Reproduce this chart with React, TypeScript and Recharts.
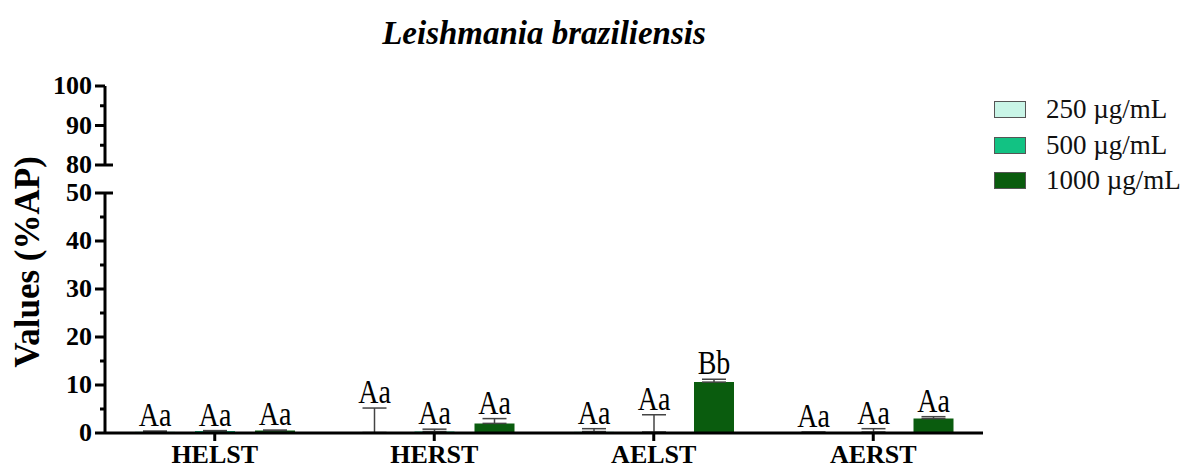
import React from 'react';
import {
  BarChart,
  Bar,
  XAxis,
  YAxis,
  ErrorBar,
  LabelList,
  Legend,
} from 'recharts';

// Leishmania braziliensis, % AP per extract and concentration
const groups = ['HELST', 'HERST', 'AELST', 'AERST'];
const mean250 = [0.3, 0.1, 0.3, 0.1];
const err250 = [0.1, 5.1, 0.6, 0.1];
const mean500 = [0.4, 0.3, 0.2, 0.2];
const err500 = [0.1, 0.5, 3.6, 0.7];
const mean1000 = [0.5, 2.0, 10.6, 3.0];
const err1000 = [0.1, 1.0, 0.6, 0.4];
const letters250 = ['Aa', 'Aa', 'Aa', 'Aa'];
const letters500 = ['Aa', 'Aa', 'Aa', 'Aa'];
const letters1000 = ['Aa', 'Aa', 'Bb', 'Aa'];
const lowTicks = [0, 5, 10, 15, 20, 25, 30, 35, 40, 45, 50];
const highTicks = [80, 85, 90, 95, 100];

const data = groups.map((g, i) => ({
  group: g,
  m250: mean250[i],
  e250: err250[i],
  l250: letters250[i],
  m500: mean500[i],
  e500: err500[i],
  l500: letters500[i],
  m1000: mean1000[i],
  e1000: err1000[i],
  l1000: letters1000[i],
}));

const series = [
  { key: '250', name: '250 µg/mL', color: '#c9f5e7' },
  { key: '500', name: '500 µg/mL', color: '#12c283' },
  { key: '1000', name: '1000 µg/mL', color: '#0a5c0e' },
];

const FONT = '"Liberation Serif", "Times New Roman", serif';
const W = 1192;
const H = 470;
const LEFT = 45;
const AXIS_W = 60;
const RIGHT = 209;

// y axis tick with minor marks, labels only every 10; break stubs at the ends
const makeTick = (breakAt: number) => (props: any) => {
  const { x, y, payload } = props;
  const v = payload.value;
  const major = v % 10 === 0;
  return (
    <g>
      <line
        x1={x - (major ? 10 : 5)}
        x2={v === breakAt ? x + 8 : x}
        y1={y}
        y2={y}
        stroke="#000"
        strokeWidth={3}
      />
      {major && (
        <text
          x={x - 13}
          y={y}
          dy={8}
          textAnchor="end"
          fontFamily={FONT}
          fontWeight="bold"
          fontSize={26}
          fill="#000"
        >
          {v}
        </text>
      )}
    </g>
  );
};

// significance letters, a bit taller than wide like the source figure
const Letters = (props: any) => {
  const { x, y, width, value } = props;
  return (
    <text
      transform={`translate(${x + width / 2},${y - 5}) scale(1,1.2)`}
      textAnchor="middle"
      fontFamily={FONT}
      fontSize={28}
      fill="#000"
    >
      {value}
    </text>
  );
};

const LegendBox = (props: any) => {
  const order = series.map((s) => s.name);
  const items = (props.payload || [])
    .filter((p: any) => order.includes(p.value))
    .sort((a: any, b: any) => order.indexOf(a.value) - order.indexOf(b.value));
  return (
    <div>
      {items.map((p: any) => (
        <div
          key={p.value}
          style={{ display: 'flex', alignItems: 'center', height: 35.5 }}
        >
          <span
            style={{
              display: 'inline-block',
              width: 30,
              height: 15,
              background: p.color,
              border: '1.5px solid #555',
              marginRight: 20,
            }}
          />
          <span style={{ fontFamily: FONT, fontSize: 27, color: '#111' }}>
            {p.value}
          </span>
        </div>
      ))}
    </div>
  );
};

export default function App() {
  return (
    <div
      style={{
        position: 'absolute',
        left: 0,
        top: 0,
        width: W,
        height: H,
        background: '#fff',
        fontFamily: FONT,
      }}
    >
      <div
        style={{
          position: 'absolute',
          left: 0,
          width: 1088,
          top: 15,
          textAlign: 'center',
          fontFamily: FONT,
          fontSize: 33,
          fontWeight: 'bold',
          fontStyle: 'italic',
        }}
      >
        Leishmania braziliensis
      </div>
      <div
        style={{
          position: 'absolute',
          left: 28,
          top: 262,
          transform: 'translate(-50%, -50%) rotate(-90deg)',
          whiteSpace: 'nowrap',
          fontFamily: FONT,
          fontSize: 35,
          fontWeight: 'bold',
        }}
      >
        Values (%AP)
      </div>

      {/* upper segment of the broken axis: 80-100 */}
      <div style={{ position: 'absolute', left: 0, top: 0 }}>
        <BarChart
          width={W}
          height={H}
          data={data}
          margin={{ top: 86, right: RIGHT, left: LEFT, bottom: H - 165 }}
        >
          <XAxis dataKey="group" hide />
          <YAxis
            type="number"
            domain={[80, 100]}
            ticks={highTicks}
            interval={0}
            allowDataOverflow
            width={AXIS_W}
            tickSize={0}
            tickMargin={0}
            tickLine={false}
            axisLine={{ stroke: '#000', strokeWidth: 3 }}
            tick={makeTick(80)}
          />
        </BarChart>
      </div>

      {/* lower segment: 0-50 with the bars */}
      <div style={{ position: 'absolute', left: 0, top: 0 }}>
        <BarChart
          width={W}
          height={H}
          data={data}
          margin={{ top: 193, right: RIGHT, left: LEFT, bottom: 7 }}
          barSize={40}
          barGap={20}
        >
          <XAxis
            dataKey="group"
            height={30}
            tickSize={8}
            tickMargin={4}
            tickLine={{ stroke: '#000', strokeWidth: 3 }}
            axisLine={{ stroke: '#000', strokeWidth: 3 }}
            tick={{
              fill: '#000',
              fontFamily: FONT,
              fontWeight: 'bold',
              fontSize: 26,
            }}
          />
          <YAxis
            type="number"
            domain={[0, 50]}
            ticks={lowTicks}
            interval={0}
            width={AXIS_W}
            tickSize={0}
            tickMargin={0}
            tickLine={false}
            axisLine={{ stroke: '#000', strokeWidth: 3 }}
            tick={makeTick(50)}
          />
          <Legend
            layout="vertical"
            verticalAlign="middle"
            align="center"
            content={LegendBox}
            wrapperStyle={{ position: 'absolute', top: 92, left: 994, width: 198 }}
          />
          {series.map((s) => [
            <Bar
              key={'m' + s.key}
              dataKey={'m' + s.key}
              stackId={'s' + s.key}
              name={s.name}
              fill={s.color}
              isAnimationActive={false}
            >
              <ErrorBar
                dataKey={(d: any) => [0, d['e' + s.key]]}
                width={12}
                stroke="#444"
                strokeWidth={1.5}
                direction="y"
              />
            </Bar>,
            <Bar
              key={'e' + s.key}
              dataKey={'e' + s.key}
              stackId={'s' + s.key}
              fill="transparent"
              legendType="none"
              isAnimationActive={false}
            >
              <LabelList dataKey={'l' + s.key} content={Letters} />
            </Bar>,
          ])}
        </BarChart>
      </div>
    </div>
  );
}
